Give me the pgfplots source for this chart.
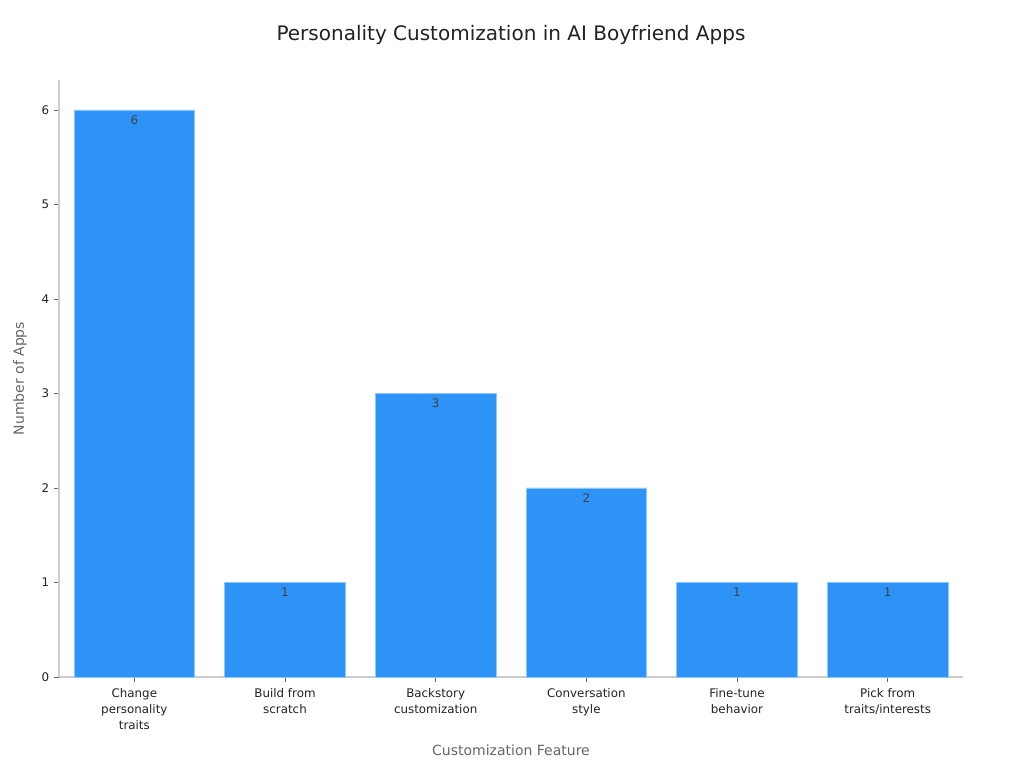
\documentclass[border=0pt]{standalone}
\usepackage{pgfplots}
\pgfplotsset{compat=1.18}
\usepackage{fontspec}
\setmainfont{DejaVu Sans}
\definecolor{barblue}{RGB}{46,147,247}
\definecolor{baredge}{RGB}{140,200,255}
\definecolor{titlec}{RGB}{34,34,34}
\definecolor{labc}{RGB}{102,102,102}
\definecolor{tickc}{RGB}{34,34,34}
\begin{document}
\begin{tikzpicture}
\path[use as bounding box] (0,0) rectangle (768pt,576pt);
\begin{axis}[
  at={(44.25pt,68.25pt)}, anchor=south west,
  scale only axis, width=678pt, height=447.75pt,
  xmin=-0.5, xmax=5.5, ymin=0, ymax=6.317,
  axis x line*=bottom, axis y line*=left,
  axis line style={draw=black!20, line width=0.8pt},
  xtick={0,...,5}, ytick={0,...,6},
  xticklabels={{Change\\personality\\traits},{Build from\\scratch},{Backstory\\customization},{Conversation\\style},{Fine-tune\\behavior},{Pick from\\traits/interests}},
  tick align=outside, major tick length=3.75pt,
  tick style={draw=black!60, line width=0.6pt},
  ticklabel style={font=\fontsize{8.9}{12}\selectfont, text=tickc},
  xticklabel style={align=center, yshift=-1pt},
  /pgf/number format/assume math mode=true,
  ylabel={Number of Apps}, xlabel={Customization Feature},
  label style={font=\fontsize{10.5}{12}\selectfont, text=labc},
  ylabel style={at={(axis description cs:-0.0431,0.5)}, anchor=center},
  xlabel style={at={(axis description cs:0.5,-0.1223)}, anchor=center},
  title={Personality Customization in AI Boyfriend Apps},
  title style={font=\fontsize{15}{17}\selectfont, text=titlec, at={(axis description cs:0.5,1.062)}, anchor=center, yshift=0pt},
  ybar, bar width=0.8, bar shift=0pt,
  nodes near coords,
  every node near coord/.append style={font=\fontsize{8.9}{10}\selectfont, text=black!75, anchor=center, yshift=-7.5pt},
  clip=false,
]
\addplot[fill=barblue, draw=baredge, line width=0.6pt] coordinates {(0,6) (1,1) (2,3) (3,2) (4,1) (5,1)};
\end{axis}
\end{tikzpicture}
\end{document}
